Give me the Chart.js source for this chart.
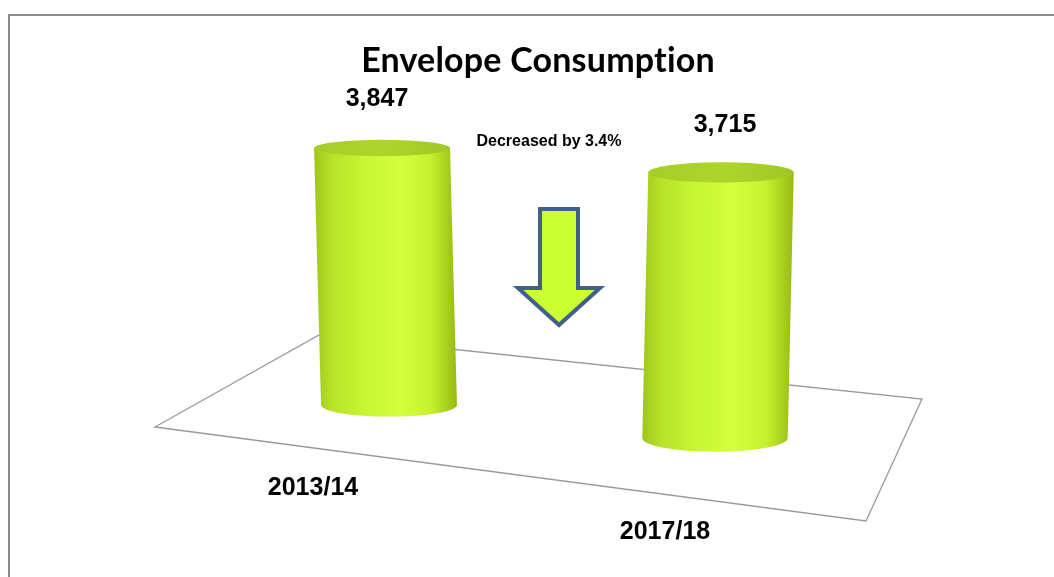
<!DOCTYPE html>
<html>
<head>
<meta charset="utf-8">
<script src="https://cdn.jsdelivr.net/npm/chart.js@4/dist/chart.umd.min.js"></script>
<style>
  html, body { margin: 0; padding: 0; background: #fff; }
  #wrap { position: relative; width: 1054px; height: 577px; overflow: hidden; }
  #frame { position: absolute; left: 8px; top: 14px; right: -4px; bottom: -4px;
           border-top: 2px solid #8c8c8c; border-left: 2px solid #8c8c8c; }
  canvas { position: absolute; left: 0; top: 0; }
</style>
</head>
<body>
<div id="wrap">
  <div id="frame"></div>
  <canvas id="envChart" width="1054" height="577"></canvas>
</div>
<script>
// data
const categories = ['2013/14', '2017/18'];
const consumption = [3847, 3715];
const chartTitle = 'Envelope Consumption';

// per-bar 3d look (perspective tweaks, not data)
const depthY = [0, 33];       // closer bar sits lower on the floor
const depthScale = [1, 1.07]; // and looks a bit bigger
const lean = [-7, 6];         // top of cylinder leans outwards
const topRy = [0.12, 0.14];
const botRy = [0.17, 0.19];
const valueLabelOffset = [[-5, -49], [4, -47]];
const catLabelOffset = [[-76, 83], [-50, 127]];

const floor = [[155, 427], [319, 335], [922, 399], [866, 521]];

const pct = ((consumption[0] - consumption[1]) / consumption[0] * 100).toFixed(1);
const noteText = 'Decreased by ' + pct + '%';

function bodyGradient(ctx, x0, x1) {
  const g = ctx.createLinearGradient(x0, 0, x1, 0);
  g.addColorStop(0, '#9fc61c');
  g.addColorStop(0.12, '#b6e228');
  g.addColorStop(0.35, '#c8f632');
  g.addColorStop(0.6, '#d3ff3e');
  g.addColorStop(0.82, '#c4f02e');
  g.addColorStop(1, '#96ba14');
  return g;
}

const cylinders = {
  id: 'cylinders',
  beforeDatasetsDraw(chart) {
    const ctx = chart.ctx;
    ctx.save();
    ctx.beginPath();
    floor.forEach((p, i) => i ? ctx.lineTo(p[0], p[1]) : ctx.moveTo(p[0], p[1]));
    ctx.closePath();
    ctx.fillStyle = '#ffffff';
    ctx.fill();
    ctx.strokeStyle = '#9a9a9a';
    ctx.lineWidth = 1.3;
    ctx.stroke();
    ctx.restore();
  },
  afterDatasetsDraw(chart) {
    const ctx = chart.ctx;
    const meta = chart.getDatasetMeta(0);
    ctx.save();
    meta.data.forEach((bar, i) => {
      const s = depthScale[i];
      const rx = bar.width * s / 2;
      const h = (bar.base - bar.y) * s;
      const yB = bar.base + depthY[i];
      const yT = yB - h;
      const cxB = bar.x;
      const cxT = bar.x + lean[i];
      const ryT = rx * topRy[i];
      const ryB = rx * botRy[i];

      // body
      ctx.beginPath();
      ctx.moveTo(cxT - rx, yT);
      ctx.lineTo(cxB - rx, yB);
      ctx.ellipse(cxB, yB, rx, ryB, 0, Math.PI, 0, true);
      ctx.lineTo(cxT + rx, yT);
      ctx.closePath();
      ctx.fillStyle = bodyGradient(ctx, Math.min(cxT, cxB) - rx, Math.max(cxT, cxB) + rx);
      ctx.fill();

      // top cap
      ctx.beginPath();
      ctx.ellipse(cxT, yT, rx, ryT, 0, 0, Math.PI * 2);
      const tg = ctx.createLinearGradient(cxT - rx, 0, cxT + rx, 0);
      tg.addColorStop(0, '#a6cc28');
      tg.addColorStop(0.5, '#aed42c');
      tg.addColorStop(1, '#a2c724');
      ctx.fillStyle = tg;
      ctx.fill();

      // value label
      ctx.fillStyle = '#000';
      ctx.textAlign = 'center';
      ctx.textBaseline = 'middle';
      ctx.font = 'bold 25px "Liberation Sans", Arial, sans-serif';
      ctx.fillText(consumption[i].toLocaleString('en-US'),
        cxT + valueLabelOffset[i][0], yT + valueLabelOffset[i][1]);

      // category label
      ctx.fillText(categories[i], cxB + catLabelOffset[i][0], bar.base + catLabelOffset[i][1]);
    });

    // decrease note + arrow
    ctx.font = 'bold 16px "Liberation Sans", Arial, sans-serif';
    ctx.fillText(noteText, 549, 142);

    ctx.beginPath();
    ctx.moveTo(540, 209);
    ctx.lineTo(578, 209);
    ctx.lineTo(578, 288);
    ctx.lineTo(600, 288);
    ctx.lineTo(559, 325);
    ctx.lineTo(518, 288);
    ctx.lineTo(540, 288);
    ctx.closePath();
    ctx.fillStyle = '#ccff33';
    ctx.fill();
    ctx.strokeStyle = '#416087';
    ctx.lineWidth = 4;
    ctx.lineJoin = 'miter';
    ctx.stroke();

    // title (letter spacing keeps Lato from joining "ti")
    ctx.fillStyle = '#000';
    ctx.font = 'bold 34px Lato, "Open Sans", sans-serif';
    ctx.textBaseline = 'alphabetic';
    if ('letterSpacing' in ctx) ctx.letterSpacing = '0.2px';
    ctx.fillText(chartTitle, 538, 72);
    ctx.restore();
  }
};

new Chart(document.getElementById('envChart'), {
  type: 'bar',
  data: {
    labels: categories,
    datasets: [{
      label: 'Envelopes',
      data: consumption,
      backgroundColor: 'rgba(0,0,0,0)',
      borderWidth: 0,
      barPercentage: 0.417,
      categoryPercentage: 1
    }]
  },
  options: {
    responsive: false,
    animation: false,
    layout: { padding: { top: 71, bottom: 172, left: 226, right: 176 } },
    scales: {
      x: { display: false },
      y: { display: false, min: 0, max: 5000 }
    },
    plugins: {
      legend: { display: false },
      tooltip: { enabled: false },
      title: { display: false }
    }
  },
  plugins: [cylinders]
});
</script>
</body>
</html>
